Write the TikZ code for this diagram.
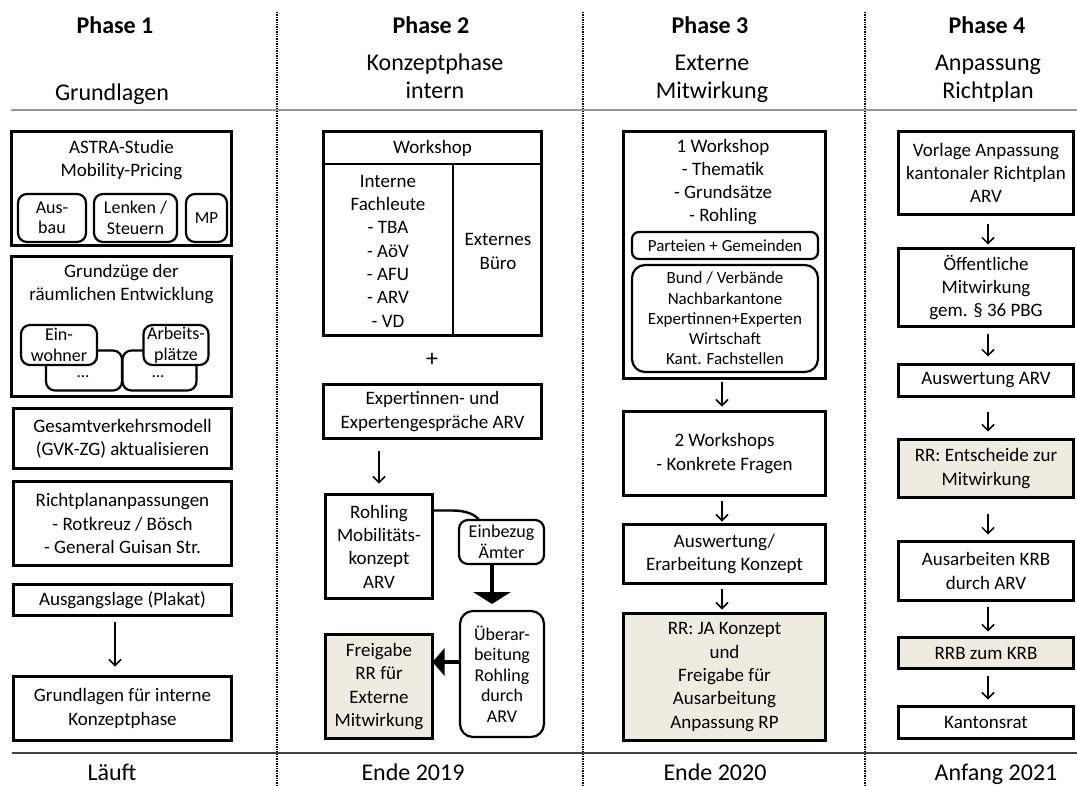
\documentclass[tikz,border=0pt]{standalone}
\usepackage{fontspec}
\setmainfont{Carlito}
\usetikzlibrary{arrows.meta,calc}
\definecolor{beige}{HTML}{EEECE1}
\begin{document}
\begin{tikzpicture}[x=1pt,y=-1pt,
  every node/.style={inner sep=0pt, outer sep=0pt},
  t/.style={font=\fontsize{19}{23.3}\selectfont, align=center},
  ts/.style={font=\fontsize{17}{20.3}\selectfont, align=center},
  tm/.style={font=\fontsize{18}{20.5}\selectfont, align=center},
  head/.style={font=\fontsize{24}{28}\selectfont, anchor=base},
  phase/.style={font=\fontsize{24}{28}\selectfont\bfseries, anchor=base},
  box/.style={draw, line width=3.3pt, t},
  mbox/.style={draw, line width=2.8pt, t},
  rbox/.style={draw, line width=2.2pt, rounded corners=9pt, ts, fill=white},
  arr/.style={-{Straight Barb[length=6pt,width=12pt]}, line width=1.5pt},
  bigarrv/.style={-{Triangle[length=12pt,width=37pt]}, line width=3.2pt},
  bigarrh/.style={-{Triangle[length=12pt,width=27pt]}, line width=3.2pt},
  sep/.style={line width=2.6pt, dash pattern=on 1.4pt off 1pt},
]
\useasboundingbox (0,0) rectangle (1077,785);
% separators and rules
\coordinate (s1t) at (277,12); \coordinate (s1b) at (277,785);
\coordinate (s2t) at (583,12); \coordinate (s2b) at (583,785);
\coordinate (s3t) at (865,12); \coordinate (s3b) at (865,785);
\draw[sep] (s1t) -- (s1b);
\draw[sep] (s2t) -- (s2b);
\draw[sep] (s3t) -- (s3b);
\coordinate (rt1) at (11,110); \coordinate (rt2) at (1077,110);
\coordinate (rb1) at (12,753); \coordinate (rb2) at (1077,753);
\draw[line width=1.3pt, black!40] (rt1) -- (rt2);
\draw[line width=1.1pt, black!75] (rb1) -- (rb2);

% headings
\node[phase] (ph1) at (115,33) {Phase 1};
\node[phase] (ph2) at (431,33) {Phase 2};
\node[phase] (ph3) at (710,33) {Phase 3};
\node[phase] (ph4) at (987,33) {Phase 4};
\node[head] (h1) at (112,100) {Grundlagen};
\node[head] (h2a) at (435,70) {Konzeptphase};
\node[head] (h2b) at (435,98) {intern};
\node[head] (h3a) at (712,70) {Externe};
\node[head] (h3b) at (712,98) {Mitwirkung};
\node[head] (h4a) at (988,70) {Anpassung};
\node[head] (h4b) at (988,98) {Richtplan};
\node[head] (f1) at (112,780) {Läuft};
\node[head] (f2) at (413,780) {Ende 2019};
\node[head] (f3) at (715,780) {Ende 2020};
\node[head] (f4) at (996,780) {Anfang 2021};

% Phase 1
\node[box, minimum width=220, minimum height=114] (astra) at (121.5,188.5) {};
\node[t] (astraT) at (121.5,160) {ASTRA-Studie\\Mobility-Pricing};
\node[rbox, tm, minimum width=68, minimum height=48] (ausbau) at (52,218) {Aus-\\bau};
\node[rbox, tm, minimum width=83, minimum height=48] (lenken) at (135.5,218) {Lenken /\\Steuern};
\node[rbox, minimum width=41, minimum height=48] (mp) at (206.5,218) {MP};

\node[box, minimum width=220, minimum height=140] (grund) at (121.5,326.5) {};
\node[t] (grundT) at (121.5,284) {Grundzüge der\\räumlichen Entwicklung};
\node[rbox, minimum width=76, minimum height=40] (dots1) at (84,370.5) {};
\node[rbox, minimum width=74, minimum height=40] (dots2) at (159.5,370.5) {};
\node[ts] (dots1T) at (83,377) {...};
\node[ts] (dots2T) at (158,377) {...};
\node[rbox, tm, minimum width=76, minimum height=40] (ein) at (59,345) {Ein-\\wohner};
\node[rbox, tm, minimum width=65, minimum height=40] (arb) at (176,345) {Arbeits-\\plätze};

\node[box, minimum width=218, minimum height=60] (gvm) at (122.5,438.5) {Gesamtverkehrsmodell\\(GVK-ZG) aktualisieren};
\node[box, minimum width=218, minimum height=84] (rp) at (122.5,523.5) {Richtplananpassungen\\- Rotkreuz / Bösch\\- General Guisan Str.};
\node[box, minimum width=218, minimum height=31] (ausg) at (122.5,600) {Ausgangslage (Plakat)};
\node[box, minimum width=218, minimum height=64] (gl) at (122.5,708.5) {Grundlagen für interne\\Konzeptphase};
\draw[arr] ($(ausg.south)+(-7.5,6)$) -- ($(gl.north)+(-7.5,-10)$);

% Phase 2
\node[box, minimum width=218, minimum height=204] (ws) at (432.5,233.5) {};
\coordinate (wsh) at (0,164);
\coordinate (wsv) at (453,0);
\draw[line width=2.8pt] (ws.west |- wsh) -- (ws.east |- wsh);
\draw[line width=2.8pt] (wsv |- wsh) -- (wsv |- ws.south);
\node[t] (wsT) at (432.5,148) {Workshop};
\node[t] (wsL) at (388,251) {Interne\\Fachleute\\- TBA\\- AöV\\- AFU\\- ARV\\- VD};
\node[t] (wsR) at (498,251.5) {Externes\\Büro};
\node[font=\fontsize{24}{24}\selectfont] (plus) at (432,360) {+};
\node[box, minimum width=218, minimum height=54] (exp) at (432.5,411.5) {Expertinnen- und\\Expertengespräche ARV};
\node[mbox, minimum width=107, minimum height=104] (rohling) at (379,546.5) {Rohling\\Mobilitäts-\\konzept\\ARV};
\draw[arr] ($(rohling.north |- exp.south)+(0,12)$) -- ($(rohling.north)+(0,-11)$);
\node[rbox, tm, minimum width=85, minimum height=44] (einb) at (501.5,542) {Einbezug\\Ämter};
\node[rbox, tm, rounded corners=13pt, minimum width=84, minimum height=126] (uber) at (502,674) {Überar-\\beitung\\Rohling\\durch\\ARV};
\node[box, fill=beige, minimum width=107, minimum height=104] (freig) at (379,686.5) {Freigabe\\RR für\\Externe\\Mitwirkung};
\draw[line width=2.4pt] ($(rohling.north east)+(0,16)$) -- ($(rohling.north east)+(20,16)$) .. controls ($(rohling.north east)+(34,16)$) and ($(einb.north west)+(17,-5)$) .. ($(einb.north west)+(20,0)$);
\draw[bigarrv] ($(einb.south)+(-9.5,0)$) -- ($(uber.north)+(-10,-7)$);
\draw[bigarrh] ($(uber.west)+(0,-12)$) -- ($(freig.east)+(0,-24.5)$);

% Phase 3
\node[box, minimum width=202, minimum height=247] (p3a) at (724.5,255) {};
\node[t] (p3aT) at (723,182) {1 Workshop\\- Thematik\\- Grundsätze\\- Rohling};
\node[rbox, rounded corners=7pt, minimum width=186, minimum height=27] (part) at (725,245.5) {Parteien + Gemeinden};
\node[rbox, rounded corners=13pt, minimum width=186, minimum height=107] (bund) at (725,318.5) {Bund / Verbände\\Nachbarkantone\\Expertinnen+Experten\\Wirtschaft\\Kant. Fachstellen};
\node[box, minimum width=202, minimum height=84] (p3b) at (724.5,453.5) {2 Workshops\\- Konkrete Fragen};
\node[box, minimum width=202, minimum height=59] (p3c) at (724.5,554) {Auswertung/\\Erarbeitung Konzept};
\node[box, fill=beige, minimum width=202, minimum height=127] (p3d) at (724.5,677) {RR: JA Konzept\\und\\Freigabe für\\Ausarbeitung\\Anpassung RP};
\draw[arr] ($(p3a.south)+(-2.5,3)$) -- ($(p3b.north)+(-2.5,-5)$);
\draw[arr] ($(p3b.south)+(-2.5,5)$) -- ($(p3c.north)+(-2.5,-3)$);
\draw[arr] ($(p3c.south)+(-2.5,5)$) -- ($(p3d.north)+(-2.5,-4)$);

% Phase 4
\node[box, minimum width=175, minimum height=83] (b1) at (986,173) {Vorlage Anpassung\\kantonaler Richtplan\\ARV};
\node[box, minimum width=175, minimum height=78] (b2) at (986,287.5) {Öffentliche\\Mitwirkung\\gem. § 36 PBG};
\node[box, minimum width=175, minimum height=32] (b3) at (986,380.5) {Auswertung ARV};
\node[box, fill=beige, minimum width=175, minimum height=58] (b4) at (986,468.5) {RR: Entscheide zur\\Mitwirkung};
\node[box, minimum width=175, minimum height=59] (b5) at (986,571) {Ausarbeiten KRB\\durch ARV};
\node[box, fill=beige, minimum width=175, minimum height=31] (b6) at (986,653) {RRB zum KRB};
\node[box, minimum width=175, minimum height=32] (b7) at (986,722.5) {Kantonsrat};
\draw[arr] ($(b1.south)+(2,9)$) -- ($(b2.north)+(2,-4)$);
\draw[arr] ($(b2.south)+(2,7)$) -- ($(b3.north)+(2,-8)$);
\draw[arr] ($(b3.south)+(2,15)$) -- ($(b4.north)+(2,-8)$);
\draw[arr] ($(b4.south)+(2,16)$) -- ($(b5.north)+(2,-7)$);
\draw[arr] ($(b5.south)+(2,6)$) -- ($(b6.north)+(2,-6)$);
\draw[arr] ($(b6.south)+(2,7)$) -- ($(b7.north)+(2,-7)$);
\end{tikzpicture}
\end{document}
